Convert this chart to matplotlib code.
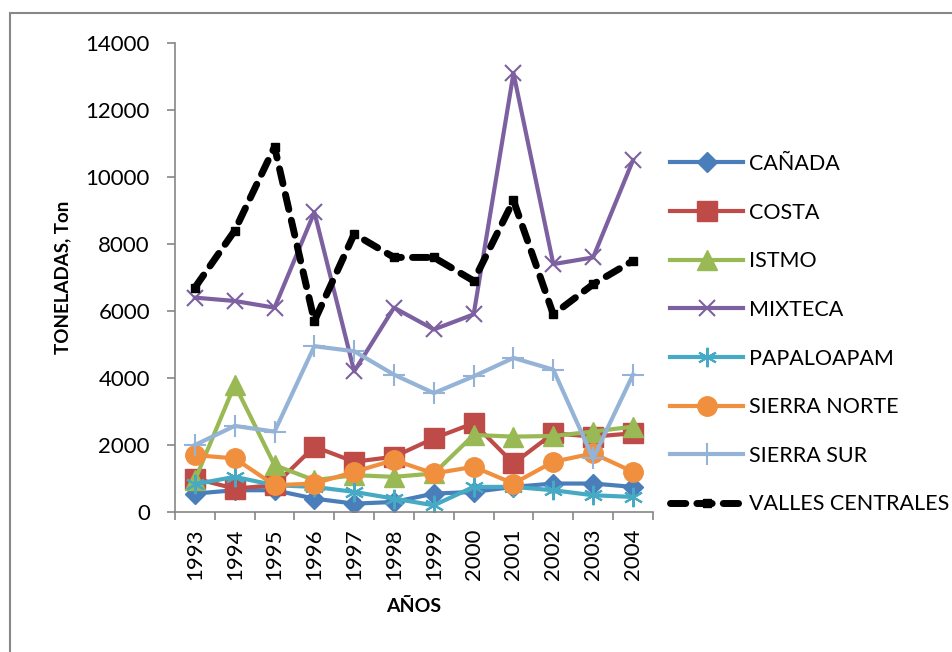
import numpy as np
import matplotlib
matplotlib.use("Agg")
import matplotlib.pyplot as plt
from matplotlib.patches import Rectangle

plt.rcParams['font.family'] = ['Lato', 'DejaVu Sans']

# Production by region, 1993-2004 (tons)
years = ["1993", "1994", "1995", "1996", "1997", "1998",
         "1999", "2000", "2001", "2002", "2003", "2004"]

canada = [550, 650, 650, 400, 250, 300, 550, 600, 750, 850, 850, 750]
costa = [1000, 700, 800, 1950, 1500, 1650, 2200, 2650, 1450, 2350, 2250, 2350]
istmo = [950, 3800, 1400, 950, 1100, 1050, 1150, 2300, 2250, 2270, 2400, 2550]
mixteca = [6400, 6300, 6100, 8950, 4200, 6100, 5450, 5900, 13100, 7400, 7600, 10500]
papaloapam = [830, 1050, 800, 750, 600, 400, 200, 750, 750, 650, 500, 450]
sierra_norte = [1700, 1600, 800, 850, 1200, 1550, 1150, 1350, 850, 1500, 1750, 1200]
sierra_sur = [2000, 2570, 2400, 4950, 4800, 4100, 3550, 4050, 4600, 4250, 1600, 4100]
valles = [6700, 8400, 10900, 5700, 8300, 7600, 7600, 6900, 9300, 5900, 6800, 7500]

fig = plt.figure(figsize=(9.52, 6.52), dpi=100)
ax = fig.add_axes([0.1838, 0.2147, 0.502, 0.7193])

x = np.arange(len(years))
lw = 3.0

ax.plot(x, canada, color='#4A7EBB', lw=lw, marker='D', ms=10, label='CAÑADA')
ax.plot(x, costa, color='#BE4B48', lw=lw, marker='s', ms=14, label='COSTA')
ax.plot(x, istmo, color='#98B954', lw=lw, marker='^', ms=14, label='ISTMO')
ax.plot(x, mixteca, color='#7D60A0', lw=lw, marker='x', ms=12, mew=1.5, label='MIXTECA')
ax.plot(x, papaloapam, color='#46AAC5', lw=lw, marker=(6, 2, 0), ms=14, mew=1.5, label='PAPALOAPAM')
ax.plot(x, sierra_norte, color='#F0903F', lw=lw, marker='o', ms=14, label='SIERRA NORTE')
ax.plot(x, sierra_sur, color='#95B3D7', lw=lw, marker='+', ms=16, mew=1.5, label='SIERRA SUR')
ax.plot(x, valles, color='black', lw=5, ls=(0, (2.2, 1.6)), dash_capstyle='round',
        marker='s', ms=6, label='VALLES CENTRALES')

ax.set_xlim(-0.5, len(years) - 0.5)
ax.set_ylim(0, 14000)
ax.set_yticks(np.arange(0, 14001, 2000))

# category labels centered, tick marks on the boundaries
ax.set_xticks(np.arange(-0.5, len(years), 1.0))
ax.set_xticklabels([])
ax.set_xticks(x, minor=True)
ax.set_xticklabels(years, minor=True, rotation=90)
ax.tick_params(axis='x', which='major', length=6, width=1.2, color='#868686')
ax.tick_params(axis='x', which='minor', length=0, pad=12, labelsize=16)
ax.tick_params(axis='y', length=6, width=1.2, color='#868686', pad=12, labelsize=16)

for side in ['top', 'right']:
    ax.spines[side].set_visible(False)
for side in ['left', 'bottom']:
    ax.spines[side].set_color('#868686')
    ax.spines[side].set_linewidth(1.2)

ax.set_ylabel('TONELADAS, Ton', fontsize=13.5, fontweight='bold', labelpad=10)
ax.set_xlabel('AÑOS', fontsize=14, fontweight='bold', labelpad=13)

fig.legend(loc='upper left', bbox_to_anchor=(0.695, 0.777), frameon=False,
           fontsize=15.5, handlelength=3.4, labelspacing=1.33, handletextpad=0.25,
           borderaxespad=0)

# outer chart frame
fig.patches.append(Rectangle((10 / 952, -0.05), 1.2, (652 - 13) / 652 + 0.05,
                             transform=fig.transFigure, fill=False,
                             edgecolor='#888888', lw=1.5))

fig.savefig('out.png', dpi=100)
